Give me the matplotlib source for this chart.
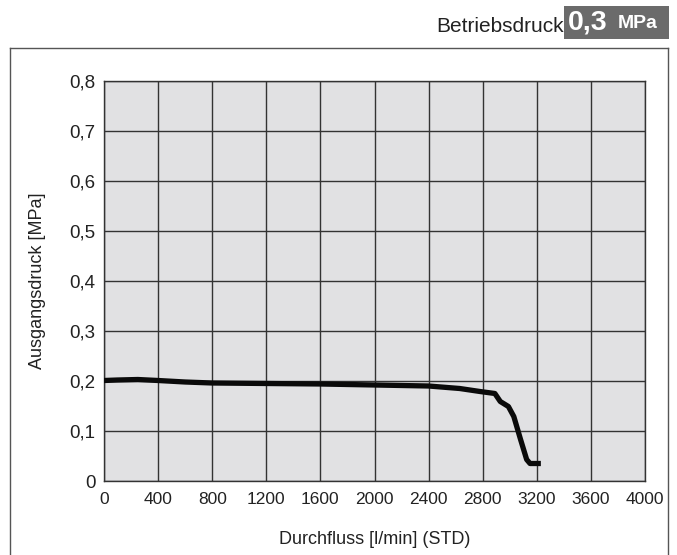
import matplotlib
matplotlib.use("Agg")
import matplotlib.pyplot as plt
from matplotlib.patches import Rectangle
from matplotlib.lines import Line2D

plt.rcParams['font.family'] = ['Liberation Sans', 'DejaVu Sans']

# Flow (l/min) vs. outlet pressure (MPa)
flow = [0, 100, 250, 400, 600, 800, 1200, 1600, 2000, 2400, 2630, 2780, 2890,
        2930, 2990, 3030, 3080, 3125, 3150, 3230]
pressure = [0.201, 0.202, 0.203, 0.201, 0.198, 0.196, 0.195, 0.194, 0.192, 0.190,
            0.185, 0.179, 0.175, 0.159, 0.149, 0.129, 0.083, 0.043, 0.035, 0.035]

x_ticks = [0, 400, 800, 1200, 1600, 2000, 2400, 2800, 3200, 3600, 4000]
y_ticks = [0, 0.1, 0.2, 0.3, 0.4, 0.5, 0.6, 0.7, 0.8]
y_tick_labels = ["0", "0,1", "0,2", "0,3", "0,4", "0,5", "0,6", "0,7", "0,8"]

W, H = 677, 555
fig = plt.figure(figsize=(W / 100, H / 100), dpi=100)
fig.patch.set_facecolor("white")

ax = fig.add_axes([104 / W, 1 - 481 / H, (645 - 104) / W, (481 - 81) / H])
ax.set_facecolor("#e1e1e3")
ax.plot(flow, pressure, color="#0a0a0a", lw=3.8, solid_capstyle="butt",
        solid_joinstyle="round", zorder=3)

ax.set_xlim(0, 4000)
ax.set_ylim(0, 0.8)
ax.set_xticks(x_ticks)
ax.set_xticklabels([str(v) for v in x_ticks], fontsize=12.5)
ax.set_yticks(y_ticks)
ax.set_yticklabels(y_tick_labels, fontsize=13.5)
ax.tick_params(length=0, pad=6, colors="#222222")
ax.tick_params(axis="x", pad=8)
ax.grid(True, color="#333333", lw=1.0)
ax.set_axisbelow(True)
for s in ax.spines.values():
    s.set_color("#333333")
    s.set_linewidth(1.0)

ax.set_xlabel("Durchfluss [l/min] (STD)", fontsize=13, color="#222222", labelpad=17)
ax.set_ylabel("Ausgangsdruck [MPa]", fontsize=13, color="#222222", labelpad=17)

# Outer frame, open at the bottom edge
fx0, fx1, fy = 10 / W, 668 / W, 1 - 48 / H
for xs, ys in [([fx0, fx1], [fy, fy]), ([fx0, fx0], [fy, -0.01]), ([fx1, fx1], [fy, -0.01])]:
    fig.add_artist(Line2D(xs, ys, color="#555555", lw=1.0, transform=fig.transFigure))

# Operating pressure badge
fig.text(564 / W, 1 - 27 / H, "Betriebsdruck", ha="right", va="center",
         fontsize=15, color="#222222")
fig.add_artist(Rectangle((564 / W, 1 - 39 / H), (669 - 564) / W, 33 / H,
                         transform=fig.transFigure, facecolor="#6b6b6b",
                         edgecolor="none"))
fig.text(568 / W, 1 - 22 / H, "0,3", ha="left", va="center", fontsize=20.5,
         fontweight="bold", color="white")
fig.text(618 / W, 1 - 24 / H, "MPa", ha="left", va="center", fontsize=14,
         fontweight="bold", color="white")

fig.savefig("out.png", dpi=100)
